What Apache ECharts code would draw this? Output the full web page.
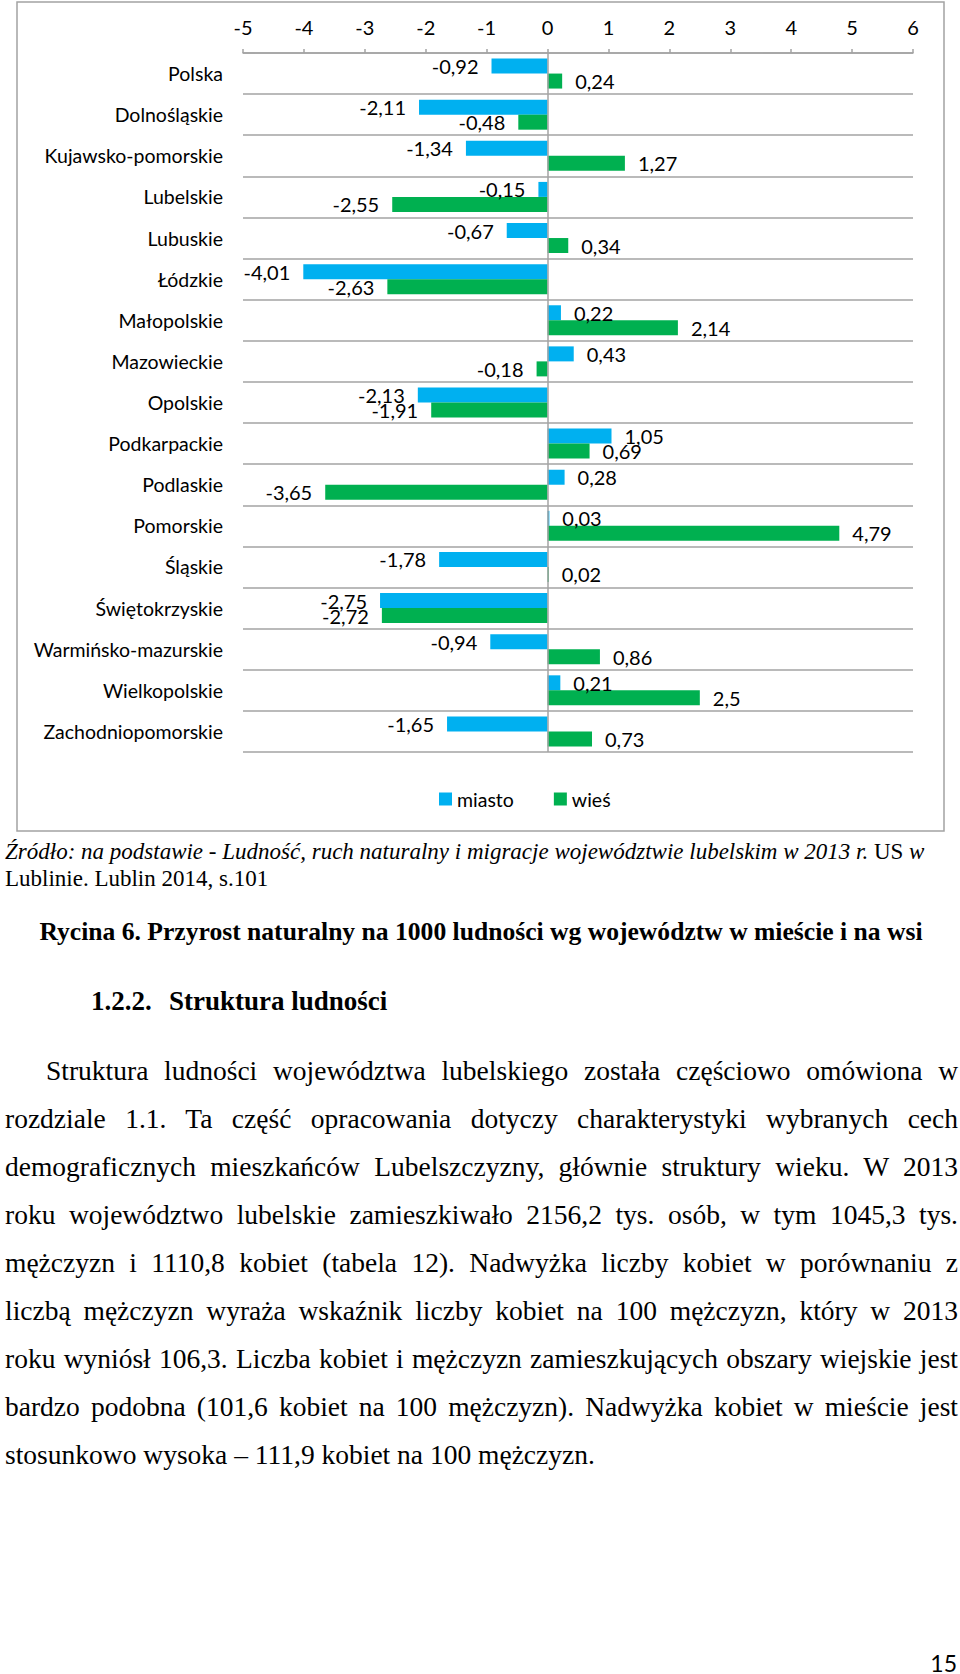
<!DOCTYPE html>
<html>
<head>
<meta charset="utf-8">
<script src="https://cdn.jsdelivr.net/npm/echarts@6/dist/echarts.min.js"></script>
<style>
    body { margin: 0; background: #fff; width: 960px; height: 1674px; position: relative; overflow: hidden; }
    #chart { position: absolute; left: 0; top: 0; width: 960px; height: 840px; }
    .txt { position: absolute; font-family: "Liberation Serif", "Times New Roman", serif; color: #000; white-space: nowrap; }
    .just { text-align: justify; text-align-last: justify; }
    .src { font-size: 23px; line-height: 27px; left: 5px; font-style: italic; }
    .body { font-size: 27.5px; line-height: 48px; }
    .pg { position: absolute; right: 3px; top: 1649px; font-family: Lato, sans-serif; font-size: 23px; color: #000; }
</style>
</head>
<body>
<div id="chart"></div>

<div class="txt src" style="top:838px;">Źródło: na podstawie - Ludność, ruch naturalny i migracje województwie lubelskim w 2013 r. <span style="font-style:normal">US</span> w</div>
<div class="txt src" style="top:865px;font-style:normal;">Lublinie. Lublin 2014, s.101</div>

<div class="txt" style="top:917px;left:0;width:962px;text-align:center;font-size:25.6px;font-weight:bold;">Rycina 6. Przyrost naturalny na 1000 ludności wg województw w mieście i na wsi</div>

<div class="txt" style="top:986px;left:91px;font-size:27px;font-weight:bold;">1.2.2.</div>
<div class="txt" style="top:986px;left:169px;font-size:27px;font-weight:bold;">Struktura ludności</div>

<div class="txt body just" style="top:1047px;left:46px;width:912px;">Struktura ludności województwa lubelskiego została częściowo omówiona w</div>
<div class="txt body just" style="top:1095px;left:5px;width:953px;">rozdziale 1.1. Ta część opracowania dotyczy charakterystyki wybranych cech</div>
<div class="txt body just" style="top:1143px;left:5px;width:953px;">demograficznych mieszkańców Lubelszczyzny, głównie struktury wieku. W 2013</div>
<div class="txt body just" style="top:1191px;left:5px;width:953px;">roku województwo lubelskie zamieszkiwało 2156,2 tys. osób, w tym 1045,3 tys.</div>
<div class="txt body just" style="top:1239px;left:5px;width:953px;">mężczyzn i 1110,8 kobiet (tabela 12). Nadwyżka liczby kobiet w porównaniu z</div>
<div class="txt body just" style="top:1287px;left:5px;width:953px;">liczbą mężczyzn wyraża wskaźnik liczby kobiet na 100 mężczyzn, który w 2013</div>
<div class="txt body just" style="top:1335px;left:5px;width:953px;">roku wyniósł 106,3. Liczba kobiet i mężczyzn zamieszkujących obszary wiejskie jest</div>
<div class="txt body just" style="top:1383px;left:5px;width:953px;">bardzo podobna (101,6 kobiet na 100 mężczyzn). Nadwyżka kobiet w mieście jest</div>
<div class="txt body" style="top:1431px;left:5px;">stosunkowo wysoka – 111,9 kobiet na 100 mężczyzn.</div>

<div class="pg">15</div>

<script>
// przyrost naturalny na 1000 ludności
var categories = ['Polska', 'Dolnośląskie', 'Kujawsko-pomorskie', 'Lubelskie', 'Lubuskie', 'Łódzkie',
    'Małopolskie', 'Mazowieckie', 'Opolskie', 'Podkarpackie', 'Podlaskie', 'Pomorskie', 'Śląskie',
    'Świętokrzyskie', 'Warmińsko-mazurskie', 'Wielkopolskie', 'Zachodniopomorskie'];
var miasto = [-0.92, -2.11, -1.34, -0.15, -0.67, -4.01, 0.22, 0.43, -2.13, 1.05, 0.28, 0.03, -1.78, -2.75, -0.94, 0.21, -1.65];
var wies = [0.24, -0.48, 1.27, -2.55, 0.34, -2.63, 2.14, -0.18, -1.91, 0.69, -3.65, 4.79, 0.02, -2.72, 0.86, 2.5, 0.73];
var xTicks = [-5, -4, -3, -2, -1, 0, 1, 2, 3, 4, 5, 6];

var lineColor = '#a3a3a3';
var fontName = 'Lato';

// etykiety po lewej dla ujemnych, po prawej dla dodatnich
function toItems(arr) {
    return arr.map(function (v) {
        return { value: v, label: { position: v < 0 ? 'left' : 'right' } };
    });
}

function fmt(p) {
    return String(p.value).replace('.', ',');
}

var myChart = echarts.init(document.getElementById('chart'), null, { renderer: 'svg' });

var option = {
    animation: false,
    textStyle: { fontFamily: fontName },
    graphic: [{
        type: 'rect',
        shape: { x: 17, y: 2, width: 927, height: 829 },
        style: { fill: 'none', stroke: lineColor, lineWidth: 1.5 },
        silent: true
    }],
    grid: { left: 243, right: 47, top: 53, height: 699 },
    legend: {
        data: ['miasto', 'wieś'],
        left: 434,
        top: 784,
        icon: 'rect',
        itemWidth: 13,
        itemHeight: 13,
        itemGap: 40,
        textStyle: { fontFamily: fontName, fontSize: 19.5, color: '#000' }
    },
    xAxis: {
        type: 'value',
        position: 'top',
        min: xTicks[0],
        max: xTicks[xTicks.length - 1],
        interval: 1,
        axisLine: { show: true, lineStyle: { color: lineColor, width: 1.5 } },
        axisTick: { show: true, length: 4, lineStyle: { color: lineColor, width: 1.5 } },
        splitLine: { show: false },
        axisLabel: { margin: 16, fontSize: 20, color: '#000', fontFamily: fontName }
    },
    yAxis: {
        type: 'category',
        inverse: true,
        data: categories,
        axisLine: { show: false },
        axisTick: { show: false },
        splitLine: { show: true, lineStyle: { color: lineColor, width: 1.5 } },
        axisLabel: { margin: 20, fontSize: 19.5, color: '#000', fontFamily: fontName }
    },
    series: [{
        name: 'miasto',
        type: 'bar',
        data: toItems(miasto),
        barWidth: 15,
        barGap: '0%',
        itemStyle: { color: '#00b0f0' },
        label: { show: true, distance: 13, fontSize: 20, color: '#000', fontFamily: fontName, formatter: fmt },
        markLine: {
            silent: true,
            symbol: 'none',
            label: { show: false },
            lineStyle: { color: lineColor, type: 'solid', width: 1.5 },
            data: [{ xAxis: 0 }]
        }
    }, {
        name: 'wieś',
        type: 'bar',
        data: toItems(wies),
        barWidth: 15,
        barGap: '0%',
        itemStyle: { color: '#00b050' },
        label: { show: true, distance: 13, fontSize: 20, color: '#000', fontFamily: fontName, formatter: fmt }
    }]
};

myChart.setOption(option);
</script>
</body>
</html>
